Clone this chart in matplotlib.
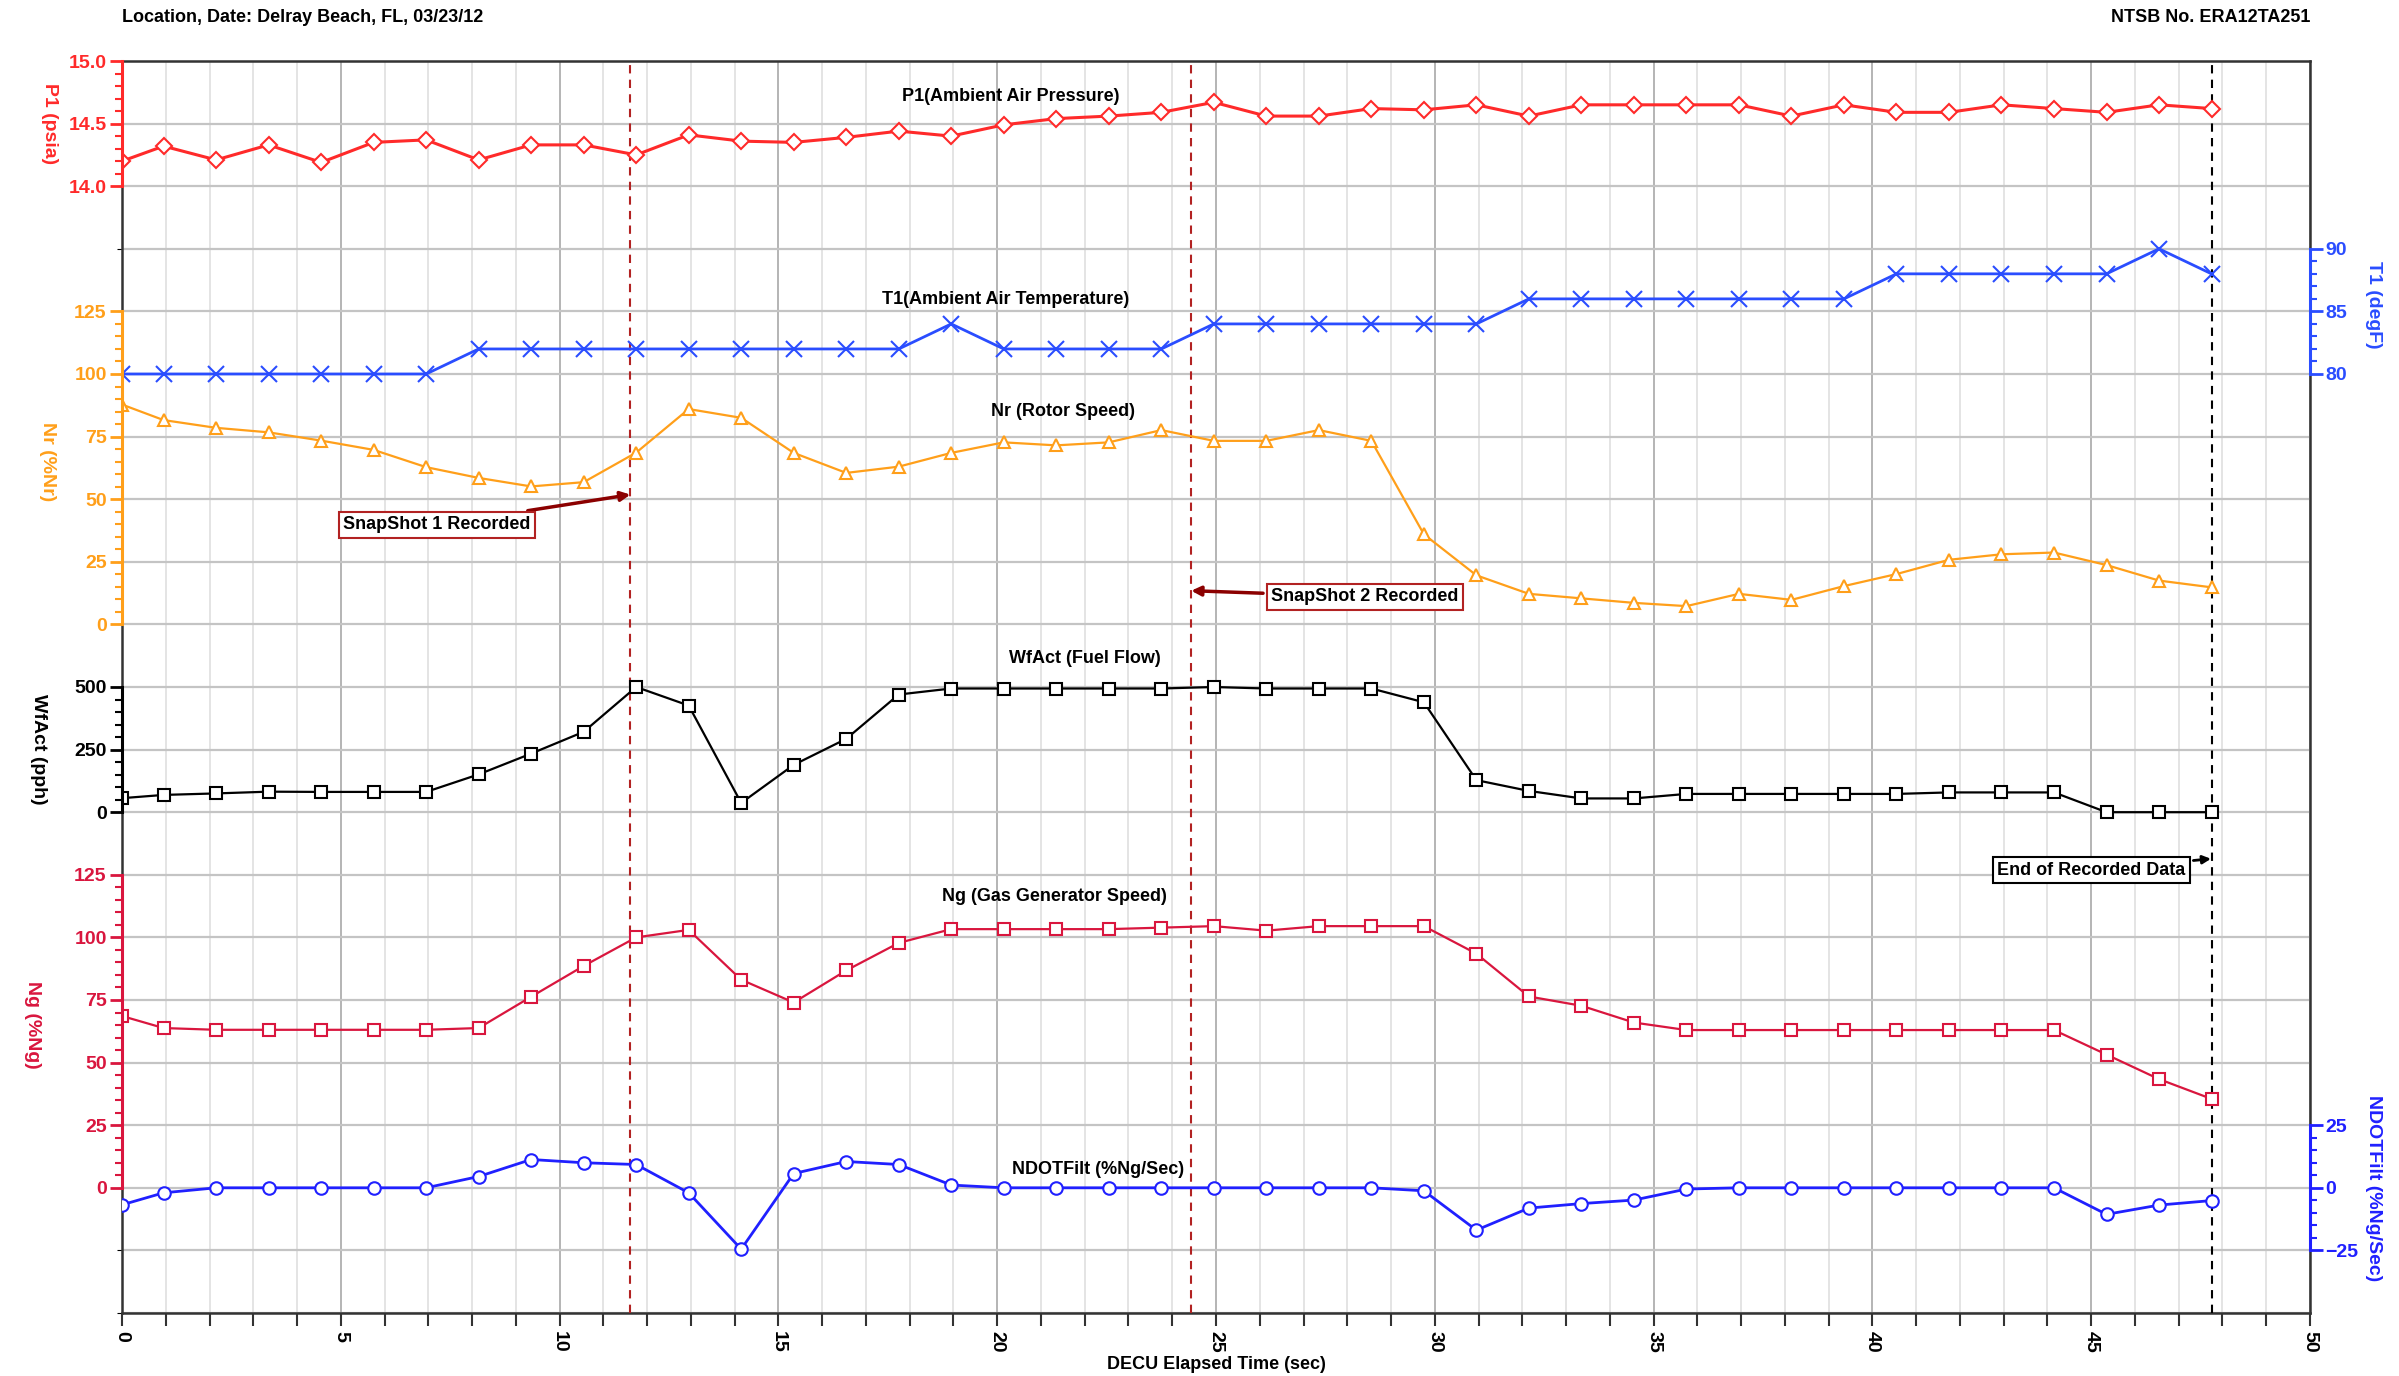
import matplotlib
matplotlib.use("Agg")
import matplotlib.pyplot as plt
from matplotlib.ticker import MultipleLocator

plt.rcParams["font.family"] = ["Liberation Sans Narrow", "Liberation Sans", "DejaVu Sans"]
plt.rcParams["font.weight"] = "bold"

# sample times (sec)
time_s = [0, 0.95, 2.15, 3.35, 4.55, 5.75, 6.95, 8.15, 9.35, 10.55, 11.75, 12.95,
          14.15, 15.35, 16.55, 17.75, 18.95, 20.15, 21.35, 22.55, 23.75, 24.95,
          26.15, 27.35, 28.55, 29.75, 30.95, 32.15, 33.35, 34.55, 35.75, 36.95,
          38.15, 39.35, 40.55, 41.75, 42.95, 44.15, 45.35, 46.55, 47.75]

p1_psia = [14.20, 14.32, 14.21, 14.33, 14.19, 14.35, 14.37, 14.21, 14.33, 14.33, 14.25,
           14.41, 14.36, 14.35, 14.39, 14.44, 14.40, 14.49, 14.54, 14.56, 14.59, 14.67,
           14.56, 14.56, 14.62, 14.61, 14.65, 14.56, 14.65, 14.65, 14.65, 14.65, 14.56,
           14.65, 14.59, 14.59, 14.65, 14.62, 14.59, 14.65, 14.62]

t1_degf = [80, 80, 80, 80, 80, 80, 80, 82, 82, 82, 82, 82, 82, 82, 82, 82, 84, 82, 82, 82,
           82, 84, 84, 84, 84, 84, 84, 86, 86, 86, 86, 86, 86, 86, 88, 88, 88, 88, 88, 90, 88]

nr_pct = [87.8, 81.6, 78.5, 76.7, 73.4, 69.7, 62.8, 58.5, 55.1, 56.8, 68.6, 86.0,
          82.5, 68.5, 60.5, 63.0, 68.5, 72.7, 71.5, 72.7, 77.6, 73.3, 73.3, 77.6, 73.3,
          36.0, 19.6, 12.2, 10.4, 8.6, 7.3, 12.2, 9.8, 15.3, 20.1, 25.8, 28.0, 28.7,
          23.7, 17.5, 14.8]

wf_pph = [56, 69, 75, 82, 81, 81, 81, 151, 234, 321, 500, 426, 37, 189, 293, 470, 494,
          494, 494, 494, 494, 500, 494, 494, 494, 439, 128, 85, 55, 55, 73, 73, 73, 73,
          73, 79, 79, 79, 0, 0, 0]

ng_pct = [68.6, 63.8, 63.1, 63.1, 63.1, 63.1, 63.1, 63.8, 76.3, 88.6, 100.0, 103.0,
          83.1, 74.0, 86.8, 97.8, 103.3, 103.3, 103.3, 103.3, 103.9, 104.5, 102.7, 104.5,
          104.5, 104.5, 93.5, 76.4, 72.7, 66.0, 63.0, 63.0, 63.0, 63.0, 63.0, 63.0, 63.0,
          63.0, 53.2, 43.4, 35.5]

ndot_pct = [-6.8, -2.0, 0, 0, 0, 0, 0, 4.5, 11.3, 10.0, 9.3, -2.0, -24.5, 5.7, 10.5, 9.3,
            1.1, 0, 0, 0, 0, 0, 0, 0, 0, -1.2, -16.9, -8.1, -6.3, -4.9, -0.5, 0, 0, 0, 0,
            0, 0, 0, -10.6, -6.9, -5.1]

snapshot_times = [11.62, 24.43]
end_time = 47.75

RED = "#ff2a2a"
BLUE_T = "#2a4dff"
ORANGE = "#ff9f1a"
CRIMSON = "#d9163e"
BLUE_N = "#2020ff"
DARKRED = "#8b0000"

fig = plt.figure(figsize=(23.99, 13.76), dpi=100)
ax = fig.add_axes([122 / 2399, 1 - 1313 / 1376, (2310 - 122) / 2399, (1313 - 61) / 1376])

# base grid axes, 20 rows
ax.set_xlim(0, 50)
ax.set_ylim(0, 20)
ax.set_yticks(range(21))
ax.tick_params(axis="y", left=False, labelleft=False)
ax.grid(axis="y", color="#c4c4c4", lw=1.6)
ax.xaxis.set_major_locator(MultipleLocator(5))
ax.xaxis.set_minor_locator(MultipleLocator(1))
ax.grid(axis="x", which="major", color="#b4b4b4", lw=1.4)
ax.grid(axis="x", which="minor", color="#e4e4e4", lw=1.4)
ax.tick_params(axis="x", which="both", direction="out", length=9, width=1.5, color="#333333")
ax.tick_params(axis="x", labelsize=14, labelrotation=-90, pad=4)
for s in ax.spines.values():
    s.set_color("#333333")
    s.set_linewidth(1.8)
ax.set_xlabel("DECU Elapsed Time (sec)", fontsize=13, fontweight="bold", labelpad=2)


def make_axis(ylim, side, color, ticks, minor, fmt=None):
    a = ax.twinx()
    a.set_ylim(*ylim)
    for s in a.spines.values():
        s.set_visible(False)
    sp = a.spines[side]
    sp.set_visible(True)
    sp.set_color(color)
    sp.set_linewidth(2.2)
    sp.set_bounds(ticks[0], ticks[-1])
    if side == "left":
        a.yaxis.tick_left()
        a.yaxis.set_label_position("left")
    a.set_yticks(ticks)
    if fmt:
        a.set_yticklabels([fmt.format(t) for t in ticks])
    a.yaxis.set_minor_locator(MultipleLocator(minor))
    a.tick_params(axis="y", which="major", colors=color, length=9, width=2, labelsize=14, pad=2)
    a.tick_params(axis="y", which="minor", colors=color, length=5, width=1.5)
    return a


ax_p1 = make_axis((5.0, 15.0), "left", RED, [14.0, 14.5, 15.0], 0.1, "{:.1f}")
ax_t1 = make_axis((5, 105), "right", BLUE_T, [80, 85, 90], 1)
ax_nr = make_axis((-275, 225), "left", ORANGE, [0, 25, 50, 75, 100, 125], 5)
ax_wf = make_axis((-2000, 3000), "left", "black", [0, 250, 500], 50)
ax_ng = make_axis((-50, 450), "left", CRIMSON, [0, 25, 50, 75, 100, 125], 5)
ax_nd = make_axis((-50, 450), "right", BLUE_N, [-25, 0, 25], 5)

# keep minor ticks only inside each labelled range
for a in (ax_p1, ax_t1, ax_nr, ax_wf, ax_ng, ax_nd):
    lo, hi = a.get_yticks()[0], a.get_yticks()[-1]
    for tk, loc in zip(a.yaxis.get_minor_ticks(), a.yaxis.get_minorticklocs()):
        if loc < lo - 1e-9 or loc > hi + 1e-9:
            tk.tick1line.set_visible(False)
            tk.tick2line.set_visible(False)

ax_p1.plot(time_s, p1_psia, color=RED, lw=2.2, marker="D", ms=8, mfc="white", mec=RED, mew=1.5)
ax_t1.plot(time_s, t1_degf, color=BLUE_T, lw=2.0, marker="x", ms=11, mew=1.5)
ax_nr.plot(time_s, nr_pct, color=ORANGE, lw=1.6, marker="^", ms=9, mfc="white", mec=ORANGE, mew=1.5)
ax_wf.plot(time_s, wf_pph, color="black", lw=1.6, marker="s", ms=9, mfc="white", mec="black", mew=1.5)
ax_ng.plot(time_s, ng_pct, color=CRIMSON, lw=1.6, marker="s", ms=9, mfc="white", mec=CRIMSON, mew=1.5)
ax_nd.plot(time_s, ndot_pct, color=BLUE_N, lw=2.0, marker="o", ms=9, mfc="white", mec=BLUE_N, mew=1.5)

# axis titles
label_kw = dict(rotation=-90, fontsize=14, fontweight="bold", ha="center", va="center")
ax.text(-0.033, 19.0, "P1 (psia)", color=RED, transform=ax.get_yaxis_transform(), **label_kw)
ax.text(-0.034, 13.6, "Nr (%Nr)", color=ORANGE, transform=ax.get_yaxis_transform(), **label_kw)
ax.text(-0.038, 9.0, "WfAct (pph)", color="black", transform=ax.get_yaxis_transform(), **label_kw)
ax.text(-0.041, 4.6, "Ng (%Ng)", color=CRIMSON, transform=ax.get_yaxis_transform(), **label_kw)
ax.text(1.029, 16.1, "T1 (degF)", color=BLUE_T, transform=ax.get_yaxis_transform(), **label_kw)
ax.text(1.029, 2.0, "NDOTFilt (%Ng/Sec)", color=BLUE_N, transform=ax.get_yaxis_transform(), **label_kw)

# series captions
cap_kw = dict(fontsize=13, fontweight="bold", ha="center", va="center", color="black")
ax.text(20.3, 19.44, "P1(Ambient Air Pressure)", **cap_kw)
ax.text(20.2, 16.19, "T1(Ambient Air Temperature)", **cap_kw)
ax.text(21.5, 14.4, "Nr (Rotor Speed)", **cap_kw)
ax.text(22.0, 10.46, "WfAct (Fuel Flow)", **cap_kw)
ax.text(21.3, 6.65, "Ng (Gas Generator Speed)", **cap_kw)
ax.text(22.3, 2.3, "NDOTFilt (%Ng/Sec)", **cap_kw)

# event markers
for t in snapshot_times:
    ax.axvline(t, color="#b22222", lw=1.5, ls=(0, (4, 3)), zorder=3)
ax.axvline(end_time, color="black", lw=1.5, ls=(0, (4, 3)), zorder=3)

box_red = dict(boxstyle="square,pad=0.25", fc="white", ec="#b22222", lw=1.5)
box_blk = dict(boxstyle="square,pad=0.25", fc="white", ec="black", lw=1.5)
ax.annotate("SnapShot 1 Recorded", xy=(11.68, 13.08), xytext=(7.2, 12.59),
            fontsize=13, fontweight="bold", ha="center", va="center", bbox=box_red,
            arrowprops=dict(arrowstyle="-|>", color=DARKRED, lw=2.5, mutation_scale=14))
ax.annotate("SnapShot 2 Recorded", xy=(24.37, 11.54), xytext=(28.4, 11.44),
            fontsize=13, fontweight="bold", ha="center", va="center", bbox=box_red,
            arrowprops=dict(arrowstyle="-|>", color=DARKRED, lw=2.5, mutation_scale=14))
ax.annotate("End of Recorded Data", xy=(47.8, 7.26), xytext=(45.0, 7.07),
            fontsize=13, fontweight="bold", ha="center", va="center", bbox=box_blk,
            arrowprops=dict(arrowstyle="-|>", color="black", lw=2, mutation_scale=12))

# header
fig.text(122 / 2399, 1 - 18 / 1376, "Location, Date: Delray Beach, FL, 03/23/12",
         fontsize=13, fontweight="bold", ha="left", va="center")
fig.text(2310 / 2399, 1 - 18 / 1376, "NTSB No. ERA12TA251",
         fontsize=13, fontweight="bold", ha="right", va="center")

fig.savefig("out.png", dpi=100)
